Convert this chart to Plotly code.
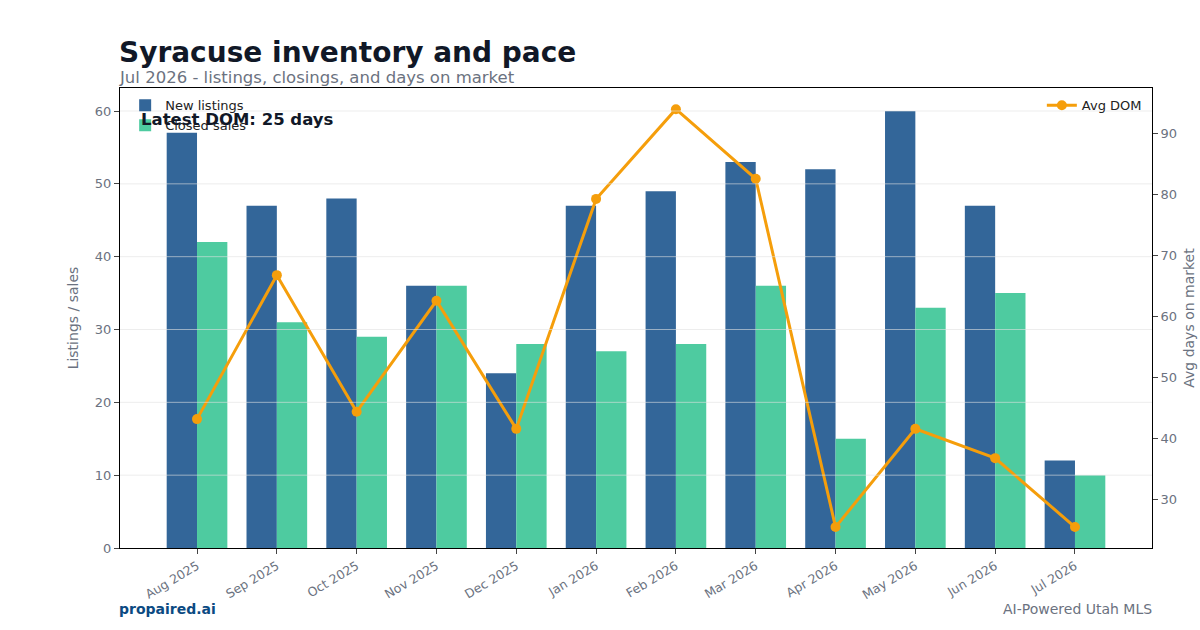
import plotly.graph_objects as go

months = ["Aug 2025", "Sep 2025", "Oct 2025", "Nov 2025", "Dec 2025", "Jan 2026",
          "Feb 2026", "Mar 2026", "Apr 2026", "May 2026", "Jun 2026", "Jul 2026"]
new_listings = [57, 47, 48, 36, 24, 47, 49, 53, 52, 60, 47, 12]
closed_sales = [42, 31, 29, 36, 28, 27, 28, 36, 15, 33, 35, 10]
avg_dom = [43.1, 66.7, 44.3, 62.5, 41.5, 79.2, 93.9, 82.5, 25.4, 41.5, 36.7, 25.4]
latest_dom = 25

FONT = "DejaVu Sans"
GRAY = "#6b7280"

fig = go.Figure()
fig.add_trace(go.Bar(x=months, y=new_listings, name="New listings",
                     marker=dict(color="#336699", line=dict(width=0)), legend="legend"))
fig.add_trace(go.Bar(x=months, y=closed_sales, name="Closed sales",
                     marker=dict(color="#4ecba0", line=dict(width=0)), legend="legend"))
fig.add_trace(go.Scatter(x=months, y=avg_dom, name="Avg DOM", yaxis="y2",
                         mode="lines+markers",
                         line=dict(color="#f59e0b", width=3),
                         marker=dict(color="#f59e0b", size=10),
                         legend="legend2"))

# gridlines drawn above bars, as in the reference
for v in range(10, 61, 10):
    fig.add_shape(type="line", xref="paper", x0=0, x1=1, yref="y", y0=v, y1=v,
                  line=dict(color="rgba(225,225,225,0.6)", width=1), layer="above")

fig.update_layout(
    width=1200, height=630,
    margin=dict(l=120, r=48, t=88, b=82),
    paper_bgcolor="white", plot_bgcolor="white",
    font=dict(family=FONT, color=GRAY, size=13),
    barmode="group", bargap=0.24, bargroupgap=0,
    showlegend=True,
    xaxis=dict(range=[-0.965, 11.965], showline=True, linecolor="black", linewidth=1,
               mirror=True, ticks="outside", ticklen=5, tickcolor="#444",
               tickangle=-31, tickfont=dict(size=12.5, color=GRAY), showgrid=False,
               automargin=False),
    yaxis=dict(range=[0, 63.16], dtick=10, showline=True, linecolor="black", linewidth=1,
               ticks="outside", ticklen=5, tickcolor="#444", showgrid=False,
               zeroline=False, tickfont=dict(size=13, color=GRAY), automargin=False,
               title=dict(text="Listings / sales", font=dict(size=14, color=GRAY), standoff=12)),
    yaxis2=dict(range=[21.97, 97.38], dtick=10, overlaying="y", side="right",
                showline=True, linecolor="black", linewidth=1,
                ticks="outside", ticklen=5, tickcolor="#444", showgrid=False,
                zeroline=False, tickfont=dict(size=13, color=GRAY), automargin=False,
                title=dict(text="Avg days on market", font=dict(size=14, color=GRAY), standoff=8)),
    legend=dict(x=0.005, y=0.995, xanchor="left", yanchor="top",
                bgcolor="rgba(255,255,255,0)", font=dict(size=13, color="#222"),
                tracegroupgap=0, itemwidth=30),
    legend2=dict(x=0.995, y=0.995, xanchor="right", yanchor="top",
                 bgcolor="rgba(255,255,255,0)", font=dict(size=13, color="#222"),
                 itemwidth=30),
    annotations=[
        dict(text="<b>Syracuse inventory and pace</b>", xref="paper", yref="paper",
             x=0, y=1, xshift=-3, yshift=88 - 52, xanchor="left", yanchor="middle",
             showarrow=False, font=dict(size=28, color="#111827")),
        dict(text="Jul 2026 - listings, closings, and days on market", xref="paper", yref="paper",
             x=0, y=1, xshift=-3, yshift=88 - 77, xanchor="left", yanchor="middle",
             showarrow=False, font=dict(size=16.5, color=GRAY)),
        dict(text=f"<b>Latest DOM: {latest_dom} days</b>", xref="paper", yref="paper",
             x=0.02, y=(548 - 119) / 460, xshift=-2, xanchor="left", yanchor="middle",
             showarrow=False, font=dict(size=16.5, color="#111827")),
        dict(text="<b>propaired.ai</b>", xref="paper", yref="paper",
             x=0, y=0, xshift=-3, yshift=-(609 - 548), xanchor="left", yanchor="middle",
             showarrow=False, font=dict(size=14, color="#0b4a82")),
        dict(text="AI-Powered Utah MLS", xref="paper", yref="paper",
             x=1, y=0, xshift=2, yshift=-(609 - 548), xanchor="right", yanchor="middle",
             showarrow=False, font=dict(size=14, color=GRAY)),
    ],
)

fig.write_html("out.html")
